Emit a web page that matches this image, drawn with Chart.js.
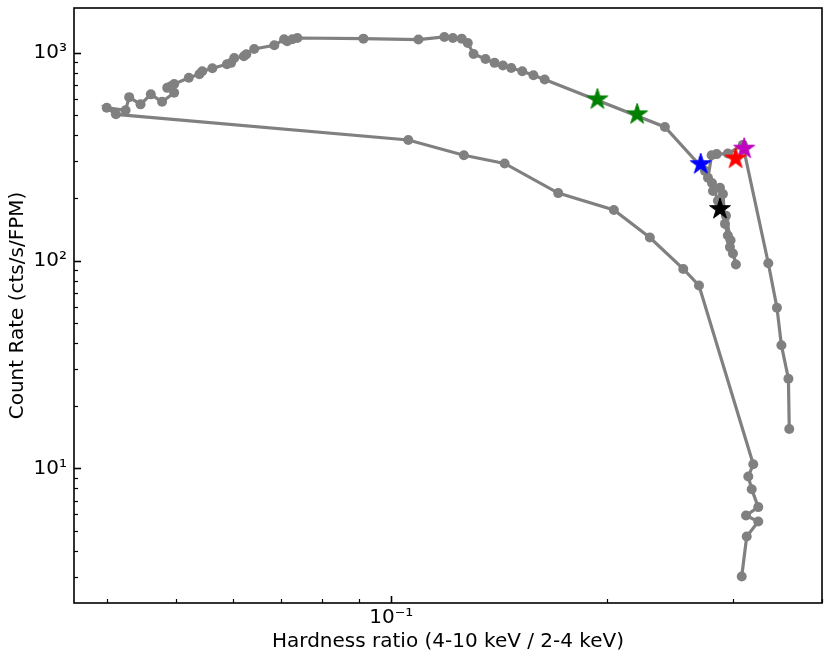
<!DOCTYPE html>
<html>
<head>
<meta charset="utf-8">
<script src="https://cdn.jsdelivr.net/npm/chart.js@4.4.1/dist/chart.umd.min.js"></script>
<style>
  html, body { margin: 0; padding: 0; background: #fff; }
  #caja { width: 832px; height: 664px; }
</style>
</head>
<body>
<div id="caja"><canvas id="grafico" width="832" height="664"></canvas></div>
<script>
// cociente de dureza (4-10 keV / 2-4 keV) y tasa de cuentas, en orden temporal
const hardness = [
  0.360, 0.359, 0.351, 0.346, 0.3365, 0.310,
  0.2954, 0.285, 0.2804,
  0.2771, 0.2816, 0.288, 0.2908, 0.2927, 0.2954, 0.2974, 0.3003, 0.3032,
  0.298, 0.2936, 0.2861, 0.2807, 0.2744,
  0.2412, 0.1638, 0.158, 0.1524, 0.1471, 0.1432, 0.1394, 0.1354, 0.1303,
  0.1279, 0.1254, 0.1219, 0.1186, 0.1091, 0.0914,
  0.0739, 0.0727, 0.0715, 0.0708,
  0.0686, 0.0643, 0.0627, 0.0622, 0.0603, 0.0597, 0.0589,
  0.0562, 0.0544, 0.0539, 0.0521,
  0.0497, 0.0492, 0.0486, 0.0497, 0.0478,
  0.0461, 0.0446, 0.0430, 0.0425, 0.0400, 0.0412,
  0.1056, 0.1263, 0.1440, 0.1711, 0.2047, 0.2298, 0.2559, 0.2692,
  0.3206, 0.3155, 0.319, 0.3258, 0.3132, 0.3258, 0.3139, 0.3089
];
const rate = [
  15.45, 27.0, 39.1, 59.3, 97.0, 360,
  327, 325, 321,
  250, 216, 224, 209, 150, 132, 116, 108, 95.6,
  125, 164, 194, 236, 270,
  439, 743, 779, 814, 844, 867, 893, 933, 986,
  1113, 1168, 1176, 1190, 1156, 1168,
  1176, 1159, 1134, 1159,
  1085, 1041, 982, 961, 943, 893, 880,
  842, 814, 788, 757,
  706, 690, 677, 641, 580,
  630, 564, 611, 528, 543, 505,
  380, 321, 293, 211, 175, 129, 91.1, 75.8,
  10.46, 9.13, 7.94, 6.51, 5.93, 5.55, 4.70, 3.02
];

// estrellas marcadas
const starHardness = [0.1941, 0.2206, 0.2707, 0.3029, 0.3114, 0.288];
const starRate = [595.7, 504.9, 290.6, 309.2, 345.2, 176.8];
const starColors = ["#008000", "#008000", "#0000ff", "#ff0000", "#bf00bf", "#000000"];

// marcas de los ejes
const xMajorTicks = [0.1];
const xMinorTicks = [0.04, 0.05, 0.06, 0.07, 0.08, 0.09, 0.2, 0.3, 0.4];
const yMajorTicks = [10, 100, 1000];
const yMinorTicks = [3, 4, 5, 6, 7, 8, 9, 20, 30, 40, 50, 60, 70, 80, 90,
  200, 300, 400, 500, 600, 700, 800, 900];

const fuente = { family: "DejaVu Sans", size: 20 };

function etiquetaPotencia(v) {
  const sup = { "0": "⁰", "1": "¹", "2": "²", "3": "³", "4": "⁴", "5": "⁵",
    "6": "⁶", "7": "⁷", "8": "⁸", "9": "⁹", "-": "⁻" };
  const e = String(Math.round(Math.log10(v)));
  return "10" + e.split("").map(c => sup[c]).join("");
}

// estrella de cinco puntas como imagen para pointStyle
function dibujarEstrella(color, r) {
  const c = document.createElement("canvas");
  const s = Math.ceil(r * 2 + 2);
  c.width = s;
  c.height = s;
  const g = c.getContext("2d");
  g.translate(s / 2, s / 2);
  g.beginPath();
  for (let i = 0; i < 10; i++) {
    const ang = -Math.PI / 2 + i * Math.PI / 5;
    const rad = i % 2 ? r * 0.382 : r;
    const px = rad * Math.cos(ang);
    const py = rad * Math.sin(ang);
    if (i === 0) g.moveTo(px, py); else g.lineTo(px, py);
  }
  g.closePath();
  g.fillStyle = color;
  g.fill();
  g.lineWidth = 1;
  g.strokeStyle = color;
  g.stroke();
  return c;
}

const puntos = hardness.map((h, i) => ({ x: h, y: rate[i] }));

const estrellas = starHardness.map((h, i) => ({
  data: [{ x: h, y: starRate[i] }],
  pointStyle: dibujarEstrella(starColors[i], 11),
  showLine: false,
  order: 0
}));

// marco completo y marcas hacia adentro (estilo matplotlib)
const marcoEjes = {
  id: "marcoEjes",
  afterDraw(chart) {
    const { ctx, chartArea: a, scales } = chart;
    ctx.save();
    ctx.strokeStyle = "#000";
    const marcasX = (vals, largo, ancho) => {
      ctx.lineWidth = ancho;
      for (const v of vals) {
        const px = Math.round(scales.x.getPixelForValue(v)) + 0.5;
        ctx.beginPath();
        ctx.moveTo(px, a.bottom);
        ctx.lineTo(px, a.bottom - largo);
        ctx.stroke();
      }
    };
    const marcasY = (vals, largo, ancho) => {
      ctx.lineWidth = ancho;
      for (const v of vals) {
        const py = Math.round(scales.y.getPixelForValue(v)) + 0.5;
        ctx.beginPath();
        ctx.moveTo(a.left, py);
        ctx.lineTo(a.left + largo, py);
        ctx.stroke();
      }
    };
    marcasX(xMajorTicks, 7, 1.6);
    marcasX(xMinorTicks, 4, 1.2);
    marcasY(yMajorTicks, 7, 1.6);
    marcasY(yMinorTicks, 4, 1.2);
    ctx.lineWidth = 1.6;
    ctx.strokeRect(a.left, a.top, a.right - a.left, a.bottom - a.top);
    ctx.restore();
  }
};

const ctx = document.getElementById("grafico").getContext("2d");
new Chart(ctx, {
  type: "scatter",
  data: {
    datasets: [
      ...estrellas,
      {
        data: puntos,
        showLine: true,
        borderColor: "#808080",
        borderWidth: 3.2,
        backgroundColor: "#808080",
        pointBackgroundColor: "#808080",
        pointBorderWidth: 0,
        pointRadius: 5,
        tension: 0,
        order: 10
      }
    ]
  },
  options: {
    responsive: false,
    animation: false,
    devicePixelRatio: 1,
    layout: { padding: { top: 8, right: 10, left: 0, bottom: 0 } },
    plugins: { legend: { display: false }, tooltip: { enabled: false } },
    scales: {
      x: {
        type: "logarithmic",
        min: 0.036,
        max: 0.4,
        grid: { display: false, drawTicks: false },
        border: { display: false },
        afterBuildTicks: s => { s.ticks = xMajorTicks.map(v => ({ value: v })); },
        afterFit: s => { s.height = 61; s.paddingLeft = 0; s.paddingRight = 0; },
        ticks: {
          font: fuente,
          color: "#000",
          padding: 3,
          autoSkip: false,
          maxRotation: 0,
          callback: v => etiquetaPotencia(v)
        },
        title: {
          display: true,
          text: "Hardness ratio (4-10 keV / 2-4 keV)",
          font: fuente,
          color: "#000",
          padding: { top: 0, bottom: 10 }
        }
      },
      y: {
        type: "logarithmic",
        min: 2.25,
        max: 1640,
        grid: { display: false, drawTicks: false },
        border: { display: false },
        afterBuildTicks: s => { s.ticks = yMajorTicks.map(v => ({ value: v })); },
        afterFit: s => { s.width = 74; s.paddingTop = 0; s.paddingBottom = 0; },
        ticks: {
          font: fuente,
          color: "#000",
          padding: 7,
          autoSkip: false,
          callback: v => etiquetaPotencia(v)
        },
        title: {
          display: true,
          text: "Count Rate (cts/s/FPM)",
          font: fuente,
          color: "#000",
          padding: { top: 6, bottom: 0 }
        }
      }
    }
  },
  plugins: [marcoEjes]
});
</script>
</body>
</html>
